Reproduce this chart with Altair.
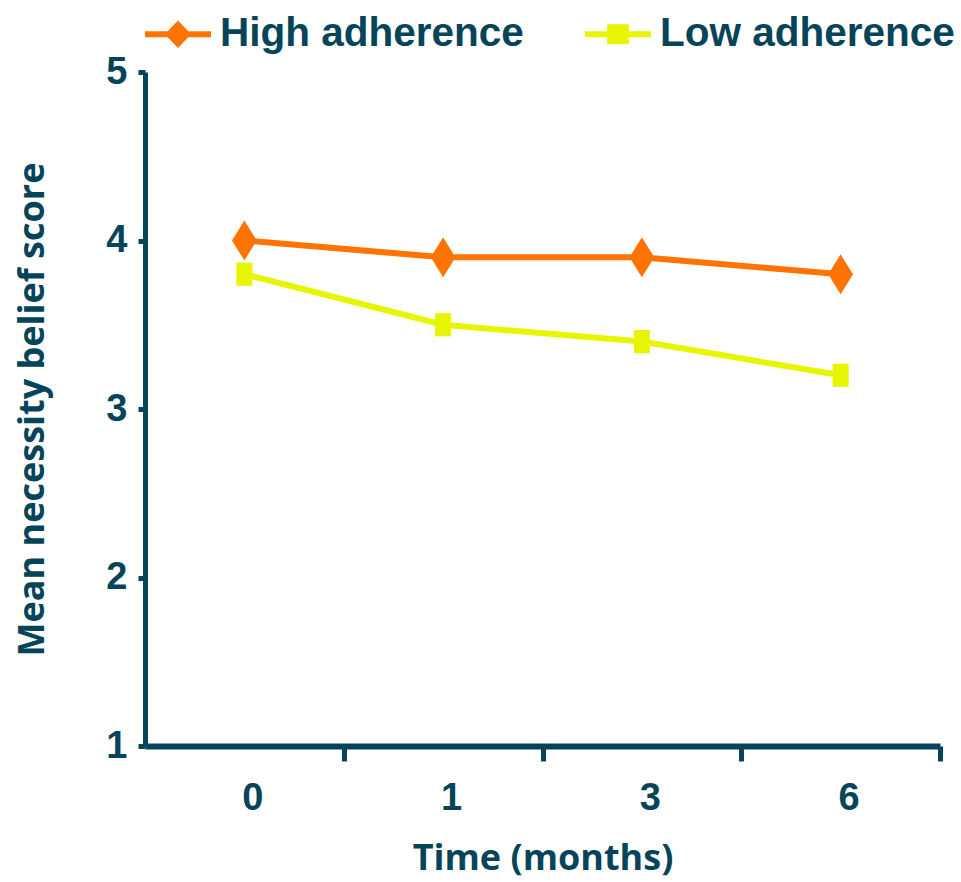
import altair as alt
import pandas as pd

months = ["0", "1", "3", "6"]
series_names = ["High adherence", "Low adherence"]
high_values = [4.0, 3.9, 3.9, 3.8]
low_values = [3.8, 3.5, 3.4, 3.2]
y_ticks = [1, 2, 3, 4, 5]

colors = ["#FF7400", "#E8F500"]
dark = "#06445A"

rows = []
for m, v in zip(months, high_values):
    rows.append({"month": m, "value": v, "series": series_names[0]})
for m, v in zip(months, low_values):
    rows.append({"month": m, "value": v, "series": series_names[1]})
df = pd.DataFrame(rows)

# marker shapes in the plot (unit coords, scaled by sqrt(size)/2)
plot_diamond = "M0,-1L0.62,0L0,1L-0.62,0Z"
plot_square = "M-0.4,-0.58L0.4,-0.58L0.4,0.58L-0.4,0.58Z"
# legend symbols: line segment plus marker
leg_diamond = "M-1,-0.09L1,-0.09L1,0.09L-1,0.09Z M0,-0.42L0.4,0L0,0.42L-0.4,0Z"
leg_square = "M-1,-0.09L1,-0.09L1,0.09L-1,0.09Z M-0.33,-0.3L0.33,-0.3L0.33,0.3L-0.33,0.3Z"

band = 795 / 4

x_enc = alt.X(
    "month:N",
    sort=months,
    scale=alt.Scale(type="band", paddingInner=0, paddingOuter=0),
    axis=alt.Axis(
        title="Time (months)",
        labelAngle=0,
        labelFont="Liberation Sans",
        labelFontSize=38,
        labelFontWeight="bold",
        labelColor=dark,
        labelPadding=18,
        tickOffset=band / 2,
        labelOffset=-band / 2 + 8,
        tickSize=15,
        tickWidth=5,
        tickColor=dark,
        domainColor=dark,
        domainWidth=6,
        titleFont="Open Sans",
        titleFontSize=36,
        titleFontWeight="bold",
        titleColor=dark,
        titlePadding=24,
    ),
)
y_enc = alt.Y(
    "value:Q",
    scale=alt.Scale(domain=[1, 5], nice=False, zero=False),
    axis=alt.Axis(
        title="Mean necessity belief score",
        values=y_ticks,
        grid=False,
        labelFont="Liberation Sans",
        labelFontSize=38,
        labelFontWeight="bold",
        labelColor=dark,
        labelPadding=11,
        tickSize=7,
        tickWidth=5,
        tickColor=dark,
        domainColor=dark,
        domainWidth=5,
        titleFont="Open Sans",
        titleFontSize=36,
        titleFontWeight="bold",
        titleColor=dark,
        titlePadding=54,
    ),
)

color_scale = alt.Scale(domain=series_names, range=colors)

lines = alt.Chart(df).mark_line(strokeWidth=6).encode(
    x=x_enc,
    y=y_enc,
    color=alt.Color("series:N", scale=color_scale, legend=None),
)

points = alt.Chart(df).mark_point(filled=True, opacity=1, size=1600, strokeWidth=0).encode(
    x=x_enc,
    y=y_enc,
    color=alt.Color("series:N", scale=color_scale, legend=None),
    shape=alt.Shape("series:N", scale=alt.Scale(domain=series_names, range=[plot_diamond, plot_square]), legend=None),
)

legend = alt.Legend(
    title=None,
    orient="top",
    direction="horizontal",
    labelFont="Liberation Sans",
    labelFontSize=40.5,
    labelFontWeight="bold",
    labelColor=dark,
    labelOffset=9,
    columnPadding=61,
    symbolSize=4356,
    symbolStrokeWidth=0,
    symbolOpacity=1,
    padding=0,
    offset=17,
    labelLimit=500,
)

legend_layer = alt.Chart(df).mark_point(filled=True, opacity=1, size=100).encode(
    x=x_enc,
    y=y_enc,
    color=alt.Color("series:N", scale=color_scale, legend=legend),
    shape=alt.Shape("series:N", scale=alt.Scale(domain=series_names, range=[leg_diamond, leg_square]), legend=legend),
).transform_filter("false")

chart = (
    alt.layer(lines, points, legend_layer)
    .resolve_scale(color="independent", shape="independent")
    .properties(
        width=795,
        height=674,
        autosize=alt.AutoSizeParams(type="none"),
        padding={"left": 145, "top": 72, "right": 21, "bottom": 136},
        background="white",
    )
    .configure_view(stroke=None)
)

chart.save("out.html", embed_options={"renderer": "svg", "actions": False})
